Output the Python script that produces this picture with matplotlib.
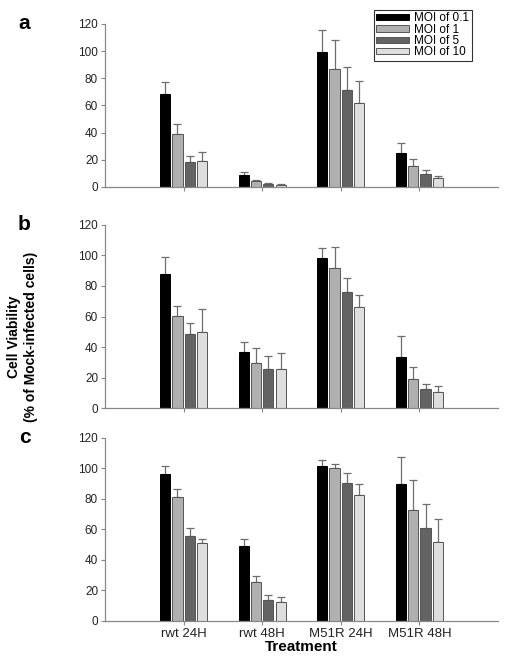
import numpy as np
import matplotlib
matplotlib.use('Agg')
from matplotlib import pyplot as plt

plt.rcParams['font.family'] = ['Liberation Sans', 'DejaVu Sans']

treatments = ['rwt 24H', 'rwt 48H', 'M51R 24H', 'M51R 48H']
series = ['MOI of 0.1', 'MOI of 1', 'MOI of 5', 'MOI of 10']
colors = ['#000000', '#b0b0b0', '#636363', '#dedede']

# panel a: mean values and top of error bar, per MOI, across treatments
a_vals = [[68.7, 9.1, 99.6, 25.3],
          [39.0, 4.4, 86.9, 15.5],
          [18.4, 2.2, 71.4, 9.6],
          [19.4, 1.6, 62.1, 6.6]]
a_tops = [[77.3, 10.8, 115.3, 32.4],
          [46.4, 4.9, 108.0, 20.4],
          [22.6, 2.6, 88.3, 12.3],
          [26.0, 1.9, 78.3, 7.9]]

b_vals = [[87.7, 36.6, 98.1, 33.4],
          [60.6, 29.4, 91.8, 19.0],
          [48.6, 25.5, 76.3, 12.2],
          [49.7, 25.5, 66.1, 10.3]]
b_tops = [[99.2, 43.2, 105.1, 47.5],
          [67.2, 39.3, 105.8, 26.8],
          [55.8, 33.8, 85.5, 15.9],
          [65.0, 36.2, 74.2, 14.4]]

c_vals = [[96.0, 48.7, 101.2, 89.6],
          [80.9, 25.1, 99.9, 72.6],
          [55.5, 13.6, 90.5, 60.8],
          [50.7, 12.2, 82.2, 51.8]]
c_tops = [[101.4, 53.3, 105.1, 107.5],
          [86.1, 29.3, 102.5, 92.0],
          [60.8, 16.6, 96.8, 76.5],
          [53.6, 15.3, 89.6, 66.7]]

panels = [('a', a_vals, a_tops), ('b', b_vals, b_tops), ('c', c_vals, c_tops)]
yticks = [0, 20, 40, 60, 80, 100, 120]

fig = plt.figure(figsize=(5.05, 6.6), dpi=100)
boxes = [[0.208, 0.7167, 0.778, 0.247],
         [0.208, 0.3818, 0.778, 0.2773],
         [0.208, 0.0595, 0.778, 0.2773]]

x = np.arange(1, len(treatments) + 1)
step = 0.157
width = 0.13
axes = []
for (label, vals, tops), box in zip(panels, boxes):
    ax = fig.add_axes(box)
    axes.append(ax)
    for i, (v, t) in enumerate(zip(vals, tops)):
        pos = x + (i - 1.5) * step
        v = np.array(v)
        err = np.array(t) - v
        ax.bar(pos, v, width=width, color=colors[i],
               edgecolor='#000000' if i == 0 else '#555555',
               linewidth=0.7, label=series[i], zorder=2)
        ax.errorbar(pos, v, yerr=[np.zeros_like(v), err], fmt='none',
                    ecolor='#6e6e6e', elinewidth=0.9, capsize=3,
                    capthick=0.9, zorder=1)
    ax.set_xlim(0, 5)
    ax.set_ylim(0, 120)
    ax.set_yticks(yticks)
    ax.set_xticks(x)
    ax.set_xticklabels([])
    for s in ['top', 'right']:
        ax.spines[s].set_visible(False)
    for s in ['left', 'bottom']:
        ax.spines[s].set_color('#888888')
        ax.spines[s].set_linewidth(0.9)
    ax.tick_params(axis='both', direction='out', color='#888888',
                   length=3, width=0.8, labelsize=8.5, labelcolor='#222222',
                   pad=2)
    ax.text(-0.19, 1.0, label, transform=ax.transAxes, fontsize=15,
            fontweight='bold', ha='right', va='center')

axes[2].set_xticklabels(treatments, fontsize=9.5)
axes[2].set_xlabel('Treatment', fontsize=11, fontweight='bold', labelpad=0)

fig.text(0.045, 0.49, 'Cell Viability\n(% of Mock-infected cells)',
         rotation=90, ha='center', va='center', fontsize=10,
         fontweight='bold', linespacing=1.3)

leg = axes[0].legend(loc='upper right', bbox_to_anchor=(0.934, 0.985),
                     bbox_transform=fig.transFigure, fontsize=8.5,
                     frameon=True, fancybox=False, borderpad=0.2,
                     labelspacing=-0.05, handlelength=2.8, handleheight=0.45,
                     handletextpad=0.45, borderaxespad=0)
leg.get_frame().set_edgecolor('#000000')
leg.get_frame().set_linewidth(0.8)

fig.savefig('out.png', dpi=100)
